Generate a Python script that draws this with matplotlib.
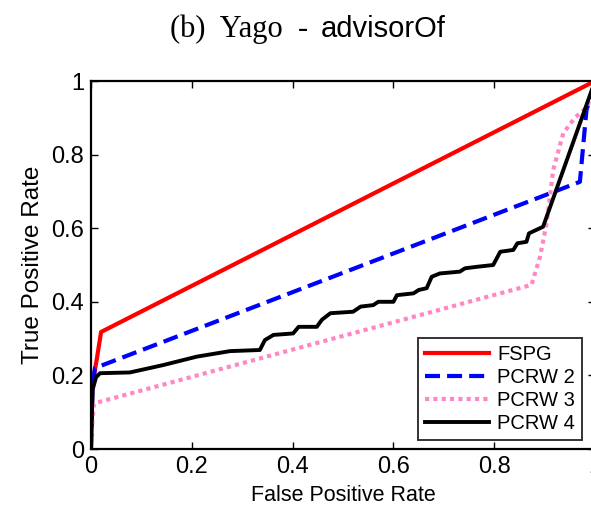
import matplotlib
matplotlib.use('Agg')
from matplotlib import pyplot as plt

# ROC curves
fspg_x = [0, 0.003, 0.011, 0.02, 1.0]
fspg_y = [0, 0.18, 0.24, 0.318, 1.0]

pcrw2_x = [0, 0.003, 0.008, 0.97, 0.983, 1.0]
pcrw2_y = [0, 0.17, 0.22, 0.726, 0.92, 1.0]

pcrw3_x = [0, 0.003, 0.006, 0.874, 0.891, 0.904, 0.917, 0.937, 0.96, 0.985, 1.0]
pcrw3_y = [0, 0.08, 0.124, 0.446, 0.523, 0.613, 0.758, 0.858, 0.9, 0.93, 1.0]

pcrw4_x = [0, 0.003, 0.01, 0.018, 0.077, 0.143, 0.21, 0.276, 0.335, 0.345,
           0.362, 0.401, 0.412, 0.448, 0.458, 0.475, 0.520, 0.535, 0.560,
           0.570, 0.600, 0.607, 0.640, 0.650, 0.666, 0.676, 0.692, 0.732,
           0.742, 0.765, 0.798, 0.812, 0.838, 0.846, 0.864, 0.869, 0.897, 1.0]
pcrw4_y = [0, 0.16, 0.195, 0.206, 0.208, 0.228, 0.251, 0.266, 0.269, 0.296,
           0.310, 0.314, 0.332, 0.332, 0.351, 0.369, 0.373, 0.387, 0.391,
           0.400, 0.400, 0.418, 0.423, 0.432, 0.437, 0.468, 0.477, 0.482,
           0.491, 0.495, 0.500, 0.536, 0.541, 0.559, 0.563, 0.586, 0.604, 1.0]

ticks = [0, 0.2, 0.4, 0.6, 0.8, 1]
tick_labels = ['0', '0.2', '0.4', '0.6', '0.8', '1']

plt.rcParams['font.family'] = ['Liberation Sans', 'DejaVu Sans']

fig = plt.figure(figsize=(5.91, 5.12), dpi=100)
ax = fig.add_axes([91 / 591, 63 / 512, 504 / 591, 368 / 512])

ax.plot(fspg_x, fspg_y, color='#ff0000', lw=3, label='FSPG')
ax.plot(pcrw2_x, pcrw2_y, color='#0000ff', lw=3, ls=(0, (3.6, 1.7)), label='PCRW 2')
ax.plot(pcrw3_x, pcrw3_y, color='#ff88c4', lw=3, ls=(0, (1, 1)), label='PCRW 3')
ax.plot(pcrw4_x, pcrw4_y, color='black', lw=2.8, label='PCRW 4')

ax.set_xlim(0, 1)
ax.set_ylim(0, 1)
ax.set_xticks(ticks)
ax.set_xticklabels(tick_labels)
ax.set_yticks(ticks)
ax.set_yticklabels(tick_labels)
ax.tick_params(direction='in', length=5, width=1, labelsize=17, pad=5,
               top=True, right=True)
for s in ax.spines.values():
    s.set_linewidth(1.6)

ax.set_xlabel('False Positive Rate', fontsize=15.5, labelpad=5)
ax.set_ylabel('True Positive Rate', fontsize=17.5, labelpad=5)

leg = ax.legend(loc='lower right', bbox_to_anchor=(0.975, 0.025), fontsize=14.5,
                frameon=True, fancybox=False, edgecolor='black',
                handlelength=3.2, handletextpad=0.4, borderpad=0.35,
                labelspacing=0.2, borderaxespad=0)
leg.get_frame().set_linewidth(1.4)

# title: serif part and sans part
fig.text(308 / 591, 1 - 37 / 512, '(b)  Yago  -', ha='right', va='baseline',
         fontsize=22, family='Liberation Serif')
fig.text(321 / 591, 1 - 37 / 512, 'advisorOf', ha='left', va='baseline',
         fontsize=21)

fig.savefig('out.png', dpi=100)
